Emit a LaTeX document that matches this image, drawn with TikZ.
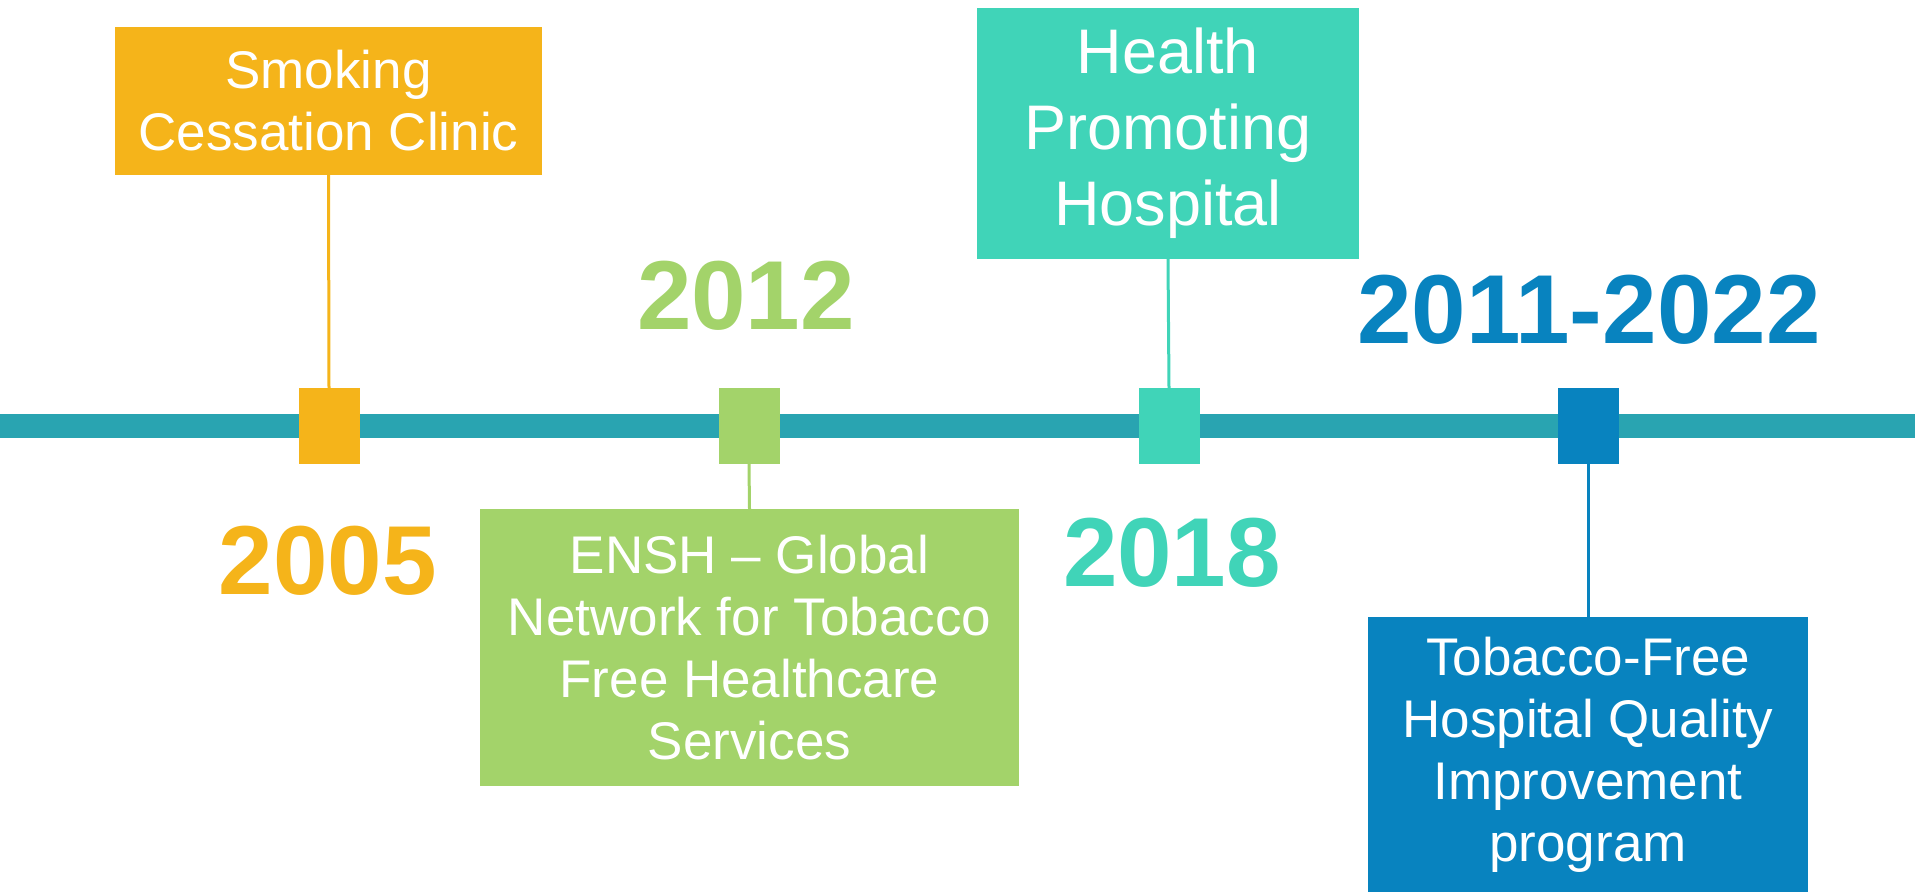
\documentclass[tikz,border=0pt]{standalone}
\usepackage{fontspec}
\setmainfont{Liberation Sans}
\definecolor{barcol}{HTML}{29A4B1}
\definecolor{orangecol}{HTML}{F5B41A}
\definecolor{greencol}{HTML}{A3D36A}
\definecolor{tealcol}{HTML}{40D4B8}
\definecolor{bluecol}{HTML}{0883BF}
\tikzset{
  eventbox/.style={rectangle, fill=#1, text=white, align=center, inner sep=0pt,
    font=\fontsize{53}{62}\selectfont},
  marker/.style={rectangle, fill=#1, minimum width=61, minimum height=76, inner sep=0pt},
  yearlabel/.style={text=#1, anchor=base, inner sep=0pt, font=\fontsize{98}{110}\selectfont\bfseries},
  stem/.style={draw=#1, line width=3}
}
\begin{document}
\begin{tikzpicture}[x=1pt, y=-1pt, line cap=butt]
				\useasboundingbox (0,0) rectangle (1915,892);
				\def\ybar{426}
				% timeline
				\coordinate (barL) at (0,\ybar);
				\coordinate (barR) at (1915,\ybar);
				\draw[barcol, line width=24] (barL)--(barR);
				% markers on the line
				\foreach \x/\c/\n in {329/orangecol/mA, 749/greencol/mB, 1169/tealcol/mC, 1588/bluecol/mD}
					\node[marker=\c] (\n) at (\x,\ybar) {};
				% boxes
				\node[eventbox=orangecol, minimum width=427, minimum height=148] (clinic) at (328.5,101) {Smoking\\Cessation Clinic};
				\node[eventbox=greencol, minimum width=539, minimum height=277] (ensh) at (749.5,647.5) {ENSH – Global\\Network for Tobacco\\Free Healthcare\\Services};
				\node[eventbox=tealcol, minimum width=382, minimum height=251, font=\fontsize{63}{76}\selectfont] (hph) at (1168,133.5) {Health\\Promoting\\Hospital};
				\node[eventbox=bluecol, minimum width=440, minimum height=275] (tfh) at (1588,754.5) {Tobacco-Free\\Hospital Quality\\Improvement\\program};
				% stems
				\draw[stem=orangecol] (clinic.south)--(mA.north);
				\draw[stem=greencol] (mB.south)--(ensh.north);
				\draw[stem=tealcol] (hph.south)--(mC.north);
				\draw[stem=bluecol] (mD.south)--(tfh.north);
				% years
				\node[yearlabel=orangecol] (y2005) at (328,594) {2005};
				\node[yearlabel=greencol] (y2012) at (746,329) {2012};
				\node[yearlabel=tealcol] (y2018) at (1172,586) {2018};
				\node[yearlabel=bluecol] (y2011) at (1589,343) {2011-2022};
	\end{tikzpicture}
\end{document}
